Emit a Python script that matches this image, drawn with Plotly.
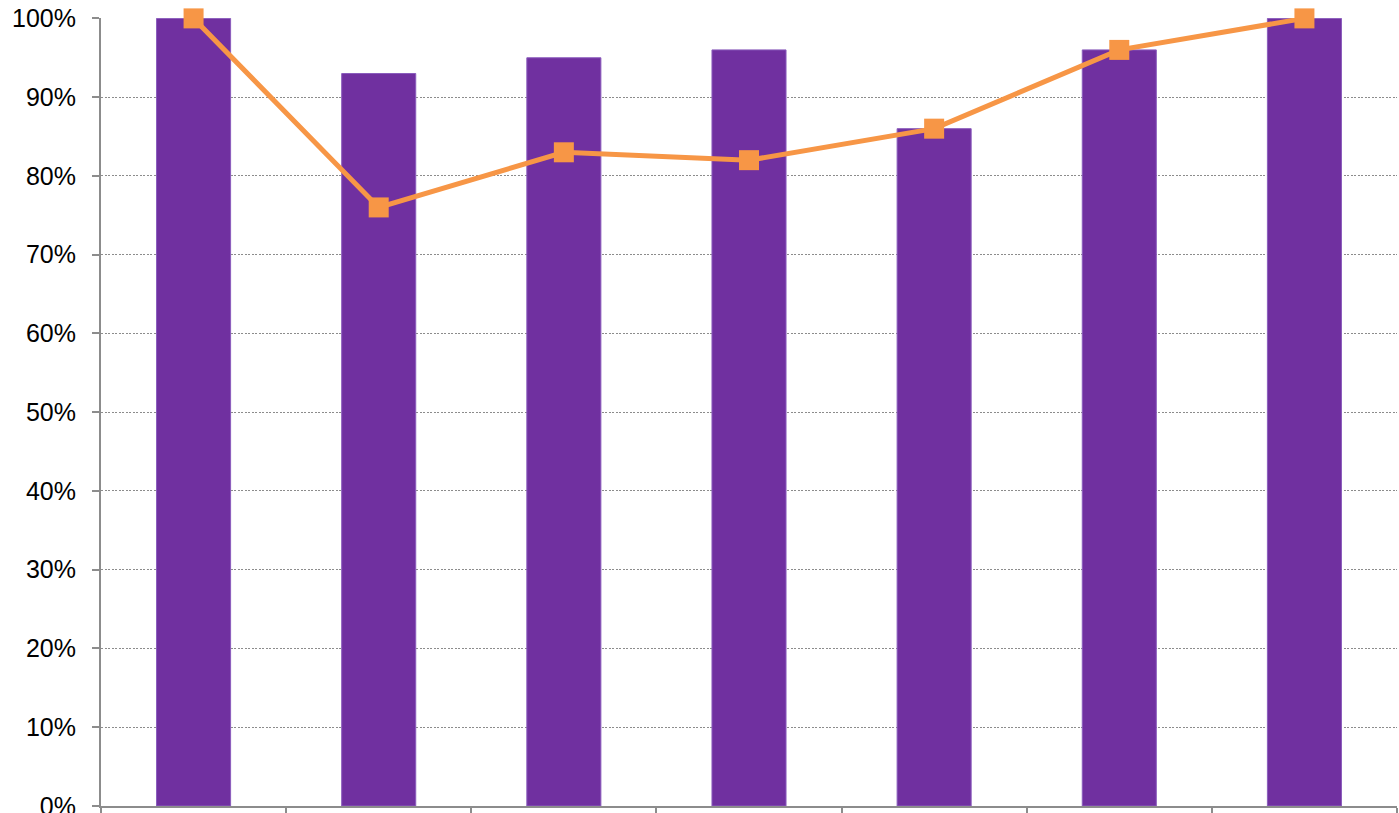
import plotly.graph_objects as go

categories = ["A", "B", "C", "D", "E", "F", "G"]
bar_values = [1.00, 0.93, 0.95, 0.96, 0.86, 0.96, 1.00]
line_values = [1.00, 0.76, 0.83, 0.82, 0.86, 0.96, 1.00]

axis_grey = "#8c8c8c"

fig = go.Figure()
fig.add_trace(go.Bar(
    x=categories, y=bar_values,
    marker=dict(color="#7030A0", line=dict(color="#8a5cbc", width=1)),
    showlegend=False, hoverinfo="skip",
))
fig.add_trace(go.Scatter(
    x=categories, y=line_values, mode="lines+markers",
    line=dict(color="#F79646", width=5),
    marker=dict(symbol="square", size=20, color="#F79646"),
    cliponaxis=False,
    showlegend=False, hoverinfo="skip",
))

fig.update_layout(
    width=1399, height=813,
    margin=dict(l=101, r=2, t=18, b=7),
    paper_bgcolor="white", plot_bgcolor="white",
    bargap=0.6,
    font=dict(family="Liberation Sans, Arial, sans-serif", size=25, color="black"),
)
fig.update_xaxes(
    type="category", showticklabels=False, showgrid=False,
    ticks="outside", tickson="boundaries", ticklen=8, tickwidth=2, tickcolor=axis_grey,
    showline=True, linecolor=axis_grey, linewidth=2,
    zeroline=False, automargin=False,
)
fig.update_yaxes(
    range=[0, 1.0005], tickvals=[i / 10 for i in range(11)], tickformat=".0%",
    showgrid=True, gridcolor=axis_grey, griddash="2px,1.5px", gridwidth=1,
    ticks="outside", ticklen=7, tickwidth=2, tickcolor=axis_grey,
    showline=True, linecolor=axis_grey, linewidth=2,
    ticklabelstandoff=11, ticklabeloverflow="allow", zeroline=False,
    automargin=False,
)

fig.write_html("out.html")
